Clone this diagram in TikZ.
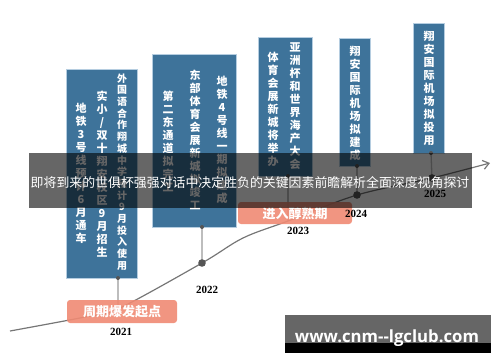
\documentclass[tikz,border=0pt]{standalone}
\usepackage{fontspec}
\usepackage{graphicx}
\usetikzlibrary{arrows.meta}
\setmainfont{Liberation Serif}
\newfontfamily\cjk{Noto Sans CJK SC}
\newfontfamily\wmfont{Open Sans}
\definecolor{colblue}{HTML}{3E739A}
\definecolor{colline}{HTML}{B5CDE0}
\definecolor{salmon}{HTML}{F08A73}
\definecolor{curvegray}{HTML}{767676}
\definecolor{conngray}{HTML}{BDBDBD}
\definecolor{dotgray}{HTML}{555555}
\begin{document}
\begin{tikzpicture}[x=1pt,y=-1pt,
  colbox/.style={fill=colblue, draw=colline, line width=0.6pt, inner sep=0, anchor=north west},
  vtext/.style={font=\cjk\bfseries\fontsize{11}{13}\selectfont, text=white, align=center, inner sep=0},
  vtextsmall/.style={font=\cjk\bfseries\fontsize{10}{11.7}\selectfont, text=white, align=center, inner sep=0},
  conn/.style={draw=conngray, line width=1.3pt},
  timeline/.style={draw=curvegray, line width=1.2pt},
  year/.style={font=\bfseries\fontsize{11}{13}\selectfont, text=black, inner sep=0},
  phase/.style={fill=salmon, fill opacity=0.9, text opacity=1, rounded corners=3pt, text=white,
     font=\cjk\bfseries\fontsize{13}{15}\selectfont, inner sep=0},
  smalldot/.style={fill=dotgray},
  bigdot/.style={fill=dotgray}
]
\useasboundingbox (0,0) rectangle (500,362);

% columns
\node[colbox, minimum width=71pt, minimum height=209pt] (col1) at (66,69) {};
\node[colbox, minimum width=84pt, minimum height=173pt] (col2) at (152,54) {};
\node[colbox, minimum width=54pt, minimum height=139pt] (col3) at (258,37) {};
\node[colbox, minimum width=31pt, minimum height=128pt] (col4) at (339,38) {};
\node[colbox, minimum width=31pt, minimum height=130pt] (col5) at (413,23) {};

% column texts
\node[vtext] (t1a) at (81,173) {地\\铁\\3\\号\\线\\预\\计\\6\\月\\通\\车};
\node[vtext] (t1b) at (102,174) {实\\小\\/\\双\\十\\翔\\安\\校\\区\\9\\月\\招\\生};
\node[vtextsmall] (t1c) at (122,172) {外\\国\\语\\合\\作\\翔\\城\\中\\学\\预\\计\\9\\月\\投\\入\\使\\用};
\node[vtext] (t2a) at (168,141) {第\\二\\东\\通\\道\\拟\\完\\工};
\node[vtext] (t2b) at (195,140) {东\\部\\体\\育\\会\\展\\新\\城\\拟\\竣\\工};
\node[vtext] (t2c) at (222,140) {地\\铁\\4\\号\\线\\一\\期\\拟\\建\\成};
\node[vtext] (t3a) at (273,109) {体\\育\\会\\展\\新\\城\\将\\举\\办};
\node[vtext] (t3b) at (295,106) {亚\\洲\\杯\\和\\世\\界\\海\\产\\大\\会};
\node[vtext] (t4) at (355,103) {翔\\安\\国\\际\\机\\场\\拟\\建\\成};
\node[vtext] (t5) at (429,88) {翔\\安\\国\\际\\机\\场\\拟\\投\\用};

% anchor points
\coordinate (b1) at (118,278);
\coordinate (b2) at (202,227);
\coordinate (b3) at (288,176);
\coordinate (b4) at (357,166);
\coordinate (b5) at (431,153);

\coordinate (s) at (10,331);
\coordinate (p1) at (85,317);
\coordinate (d21) at (118,309);
\coordinate (d22) at (202,263);
\coordinate (p2) at (243,238);
\coordinate (d23) at (288,221);
\coordinate (d24) at (357,195);
\coordinate (d25) at (432,178);
\coordinate (e) at (490,163);

% connectors
\draw[conn] (b1) -- (d21);
\draw[conn] (b2) -- (d22);
\draw[conn] (b3) -- (d23);
\draw[conn] (b4) -- (d24);
\draw[conn] (b5) -- (d25);
\foreach \p in {b1,b2,b3,b4,b5} \fill[smalldot] (\p) circle (2);

% timeline
\draw[timeline, -{Straight Barb[length=6pt,width=9pt]}] plot[smooth, tension=0.55] coordinates {(s) (p1) (d21) (d22) (p2) (d23) (d24) (d25) (e)};
\foreach \p in {d22,d24,d25} \fill[bigdot] (\p) circle (3.8);

% phase labels
\node[phase, minimum width=110pt, minimum height=23pt] (ph1) at (122,311.5) {周期爆发起点};
\node[phase, minimum width=114pt, minimum height=22pt] (ph2) at (295,213) {进入醇熟期};

% years
\node[year] (y21) at (121,332) {2021};
\node[year] (y22) at (207,290) {2022};
\node[year] (y23) at (298,231) {2023};
\node[year] (y24) at (356,214) {2024};
\node[year] (y25) at (435,194) {2025};

% banner
\fill[black, fill opacity=0.6] (29,153) rectangle (472,208);
\node[text=white, font=\cjk\fontsize{12.9}{15}\selectfont, inner sep=0] (banner) at (250,183)
  {即将到来的世俱杯强强对话中决定胜负的关键因素前瞻解析全面深度视角探讨};

% watermark
\fill[black!60] (285,315) rectangle (491,343);
\fill[black] (285,343) rectangle (491,353);
\node[text=white, anchor=base, inner sep=0] (wm) at (387,342)
  {\resizebox{184pt}{!}{\wmfont\bfseries www.cnm--lgclub.com}};
\end{tikzpicture}
\end{document}
